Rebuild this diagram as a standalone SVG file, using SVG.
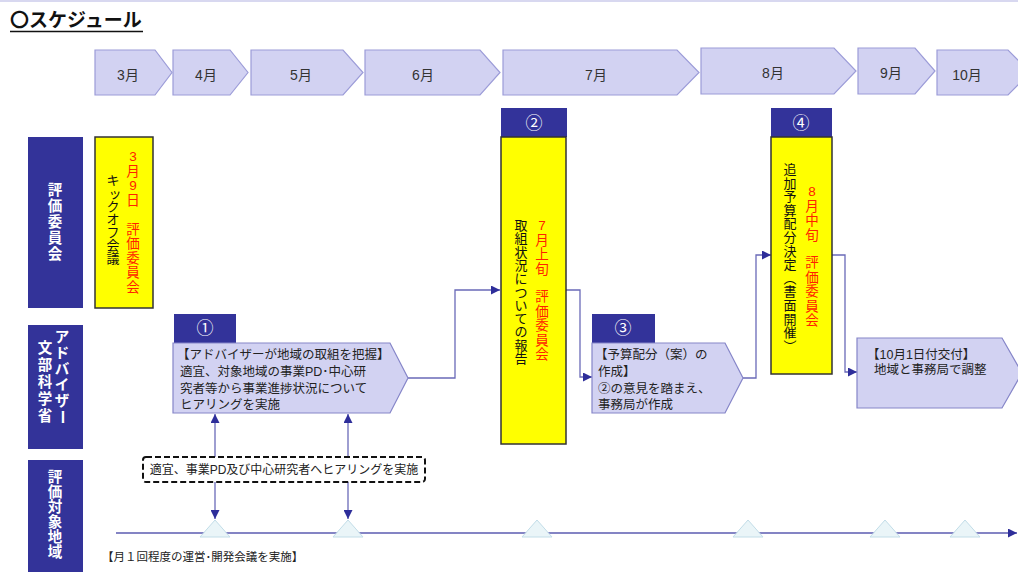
<svg xmlns="http://www.w3.org/2000/svg" width="1018" height="572" viewBox="0 0 1018 572">
<defs>
<marker id="arr" viewBox="0 0 10 10" refX="10" refY="5" markerWidth="9" markerHeight="9" markerUnits="userSpaceOnUse" orient="auto-start-reverse">
<path d="M0,0 L10,5 L0,10 Z" fill="#2e2e9a"/>
</marker>
<style>
text{font-family:"Liberation Sans","Noto Sans CJK JP",sans-serif;}
.month{fill:#d2d2f2;stroke:#9c9cd8;stroke-width:1.2;}
.mlabel{font-size:14px;fill:#333;text-anchor:middle;}
.row{fill:#333399;}
.rowt{font-size:14.5px;fill:#fff;text-anchor:middle;dominant-baseline:central;font-weight:bold;}
.yel{fill:#ffff00;stroke:#333;stroke-width:1.5;}
.hdr{fill:#33339a;}
.num{font-size:17px;fill:#fff;text-anchor:middle;}
.vr{font-size:13.5px;fill:#ff2200;text-anchor:middle;dominant-baseline:central;}
.vb{font-size:13px;fill:#111;text-anchor:middle;dominant-baseline:central;}
.pent{fill:#d2d2f2;stroke:#8585c8;stroke-width:1.2;}
.pt{font-size:12.5px;fill:#222;}
.con{fill:none;stroke:#6a6ab8;stroke-width:1.3;}
.tri{fill:#eaf5f8;stroke:#c2dde8;stroke-width:1;}
</style>
</defs>
<rect width="1018" height="572" fill="#fff"/>
<line x1="0" y1="1" x2="1018" y2="1" stroke="#d8d8f0" stroke-width="2"/>
<g id="title">
<text x="10" y="27" font-size="19" font-weight="bold" fill="#111">〇スケジュール</text>
<line x1="10" y1="31.5" x2="143" y2="31.5" stroke="#111" stroke-width="1.5"/>
</g>
<g id="months">
<polygon class="month" points="95,50 155,50 172,72.5 155,95 95,95"/>
<text class="mlabel" x="128" y="80">3月</text>
<polygon class="month" points="173,50 230,50 248,72.5 230,95 173,95"/>
<text class="mlabel" x="206" y="80">4月</text>
<polygon class="month" points="251,50 343,50 363,72.5 343,95 251,95"/>
<text class="mlabel" x="301" y="80">5月</text>
<polygon class="month" points="365,50 480,50 500,72.5 480,95 365,95"/>
<text class="mlabel" x="423" y="80">6月</text>
<polygon class="month" points="503,50 677,50 699,72.5 677,95 503,95"/>
<text class="mlabel" x="596" y="80">7月</text>
<polygon class="month" points="701,48 834,48 856,71 834,94 701,94"/>
<text class="mlabel" x="773" y="78">8月</text>
<polygon class="month" points="858,48 915,48 935,71 915,94 858,94"/>
<text class="mlabel" x="891" y="78">9月</text>
<polygon class="month" points="937,50 1008,50 1030,72.5 1008,95 937,95"/>
<text class="mlabel" x="967" y="80">10月</text>
</g>
<g id="row-committee">
<rect class="row" x="28" y="137" width="55" height="171"/>
<text class="rowt"><tspan x="55" y="190">評</tspan><tspan x="55" y="206">価</tspan><tspan x="55" y="222">委</tspan><tspan x="55" y="238">員</tspan><tspan x="55" y="254">会</tspan></text>
</g>
<g id="row-mext">
<rect class="row" x="28" y="325" width="55" height="124"/>
<text class="rowt"><tspan x="62" y="337">ア</tspan><tspan x="62" y="353">ド</tspan><tspan x="62" y="369">バ</tspan><tspan x="62" y="385">イ</tspan><tspan x="62" y="401">ザ</tspan></text>
<text class="rowt" transform="rotate(90 62 417)" x="62" y="417">ー</text>
<text class="rowt"><tspan x="45" y="348">文</tspan><tspan x="45" y="365">部</tspan><tspan x="45" y="382">科</tspan><tspan x="45" y="399">学</tspan><tspan x="45" y="416">省</tspan></text>
</g>
<g id="row-region">
<rect class="row" x="28" y="460" width="55" height="115"/>
<text class="rowt"><tspan x="55" y="477">評</tspan><tspan x="55" y="492">価</tspan><tspan x="55" y="507">対</tspan><tspan x="55" y="522">象</tspan><tspan x="55" y="537">地</tspan><tspan x="55" y="552">域</tspan></text>
</g>
<g id="kickoff">
<rect class="yel" x="95" y="137" width="58" height="171"/>
<text class="vr"><tspan x="133" y="156">3</tspan><tspan x="133" y="170.5">月</tspan><tspan x="133" y="185">9</tspan><tspan x="133" y="199.5">日</tspan><tspan x="133" y="228.5">評</tspan><tspan x="133" y="243">価</tspan><tspan x="133" y="257.5">委</tspan><tspan x="133" y="272">員</tspan><tspan x="133" y="286.5">会</tspan></text>
<text class="vb" font-size="12.5"><tspan x="113" y="180">キ</tspan><tspan x="115" y="193">ッ</tspan><tspan x="113" y="206">ク</tspan><tspan x="113" y="219">オ</tspan><tspan x="113" y="232">フ</tspan><tspan x="113" y="245">会</tspan><tspan x="113" y="258">議</tspan></text>
</g>
<g id="connectors">
<polyline class="con" points="408,378 455,378 455,290 500,290" marker-end="url(#arr)"/>
<polyline class="con" points="566,290 580,290 580,377 592,377" marker-end="url(#arr)"/>
<polyline class="con" points="743,378 756,378 756,255 771,255" marker-end="url(#arr)"/>
<polyline class="con" points="832,255 845,255 845,372 857,372" marker-end="url(#arr)"/>
<line class="con" x1="215" y1="519" x2="215" y2="414" marker-start="url(#arr)" marker-end="url(#arr)"/>
<line class="con" x1="348" y1="519" x2="348" y2="414" marker-start="url(#arr)" marker-end="url(#arr)"/>
<line x1="116" y1="533" x2="1017" y2="533" stroke="#8484c4" stroke-width="2" marker-end="url(#arr)"/>
</g>
<g id="step1">
<rect class="hdr" x="174" y="314" width="62" height="29"/>
<text class="num" x="205" y="334">①</text>
<polygon class="pent" points="173,343 390,343 408,378 390,413 173,413"/>
<text class="pt" x="177" y="359">【アドバイザーが地域の取組を把握】</text>
<text class="pt" x="180" y="376">適宜、対象地域の事業PD･中心研</text>
<text class="pt" x="180" y="393">究者等から事業進捗状況について</text>
<text class="pt" x="180" y="409">ヒアリングを実施</text>
</g>
<g id="step2">
<rect class="hdr" x="501" y="108" width="66" height="29"/>
<text class="num" x="534" y="129">②</text>
<rect class="yel" x="501" y="137" width="65" height="307"/>
<text class="vr"><tspan x="542" y="225">7</tspan><tspan x="542" y="239.5">月</tspan><tspan x="542" y="254">上</tspan><tspan x="542" y="268.5">旬</tspan><tspan x="542" y="296">評</tspan><tspan x="542" y="310.5">価</tspan><tspan x="542" y="325">委</tspan><tspan x="542" y="339.5">員</tspan><tspan x="542" y="354">会</tspan></text>
<text class="vb"><tspan x="521" y="225">取</tspan><tspan x="521" y="238.3">組</tspan><tspan x="521" y="251.6">状</tspan><tspan x="521" y="264.9">況</tspan><tspan x="521" y="278.2">に</tspan><tspan x="521" y="291.5">つ</tspan><tspan x="521" y="304.8">い</tspan><tspan x="521" y="318.1">て</tspan><tspan x="521" y="331.4">の</tspan><tspan x="521" y="344.7">報</tspan><tspan x="521" y="358">告</tspan></text>
</g>
<g id="step3">
<rect class="hdr" x="592" y="314" width="63" height="29"/>
<text class="num" x="623" y="334">③</text>
<polygon class="pent" points="592,343 725,343 743,378 725,413 592,413"/>
<text class="pt" x="595" y="359">【予算配分（案）の</text>
<text class="pt" x="598" y="376">作成】</text>
<text class="pt" x="598" y="393">②の意見を踏まえ、</text>
<text class="pt" x="598" y="409">事務局が作成</text>
</g>
<g id="step4">
<rect class="hdr" x="771" y="108" width="61" height="29"/>
<text class="num" x="801" y="129">④</text>
<rect class="yel" x="771" y="137" width="61" height="237"/>
<text class="vb"><tspan x="790" y="169">追</tspan><tspan x="790" y="182.6">加</tspan><tspan x="790" y="196.2">予</tspan><tspan x="790" y="209.8">算</tspan><tspan x="790" y="223.4">配</tspan><tspan x="790" y="237">分</tspan><tspan x="790" y="250.6">決</tspan><tspan x="790" y="264.2">定</tspan><tspan x="790" y="277.8">︵</tspan><tspan x="790" y="291.4">書</tspan><tspan x="790" y="305">面</tspan><tspan x="790" y="318.6">開</tspan><tspan x="790" y="332.2">催</tspan><tspan x="790" y="345.8">︶</tspan></text>
<text class="vr"><tspan x="812" y="191">8</tspan><tspan x="812" y="205.5">月</tspan><tspan x="812" y="220">中</tspan><tspan x="812" y="234.5">旬</tspan><tspan x="812" y="262">評</tspan><tspan x="812" y="276.5">価</tspan><tspan x="812" y="291">委</tspan><tspan x="812" y="305.5">員</tspan><tspan x="812" y="320">会</tspan></text>
</g>
<g id="step5">
<polygon class="pent" points="857,338 1002,338 1022,373 1002,408 857,408"/>
<text class="pt" x="867" y="359">【10月1日付交付】</text>
<text class="pt" x="874" y="374">地域と事務局で調整</text>
</g>
<g id="hearing">
<rect x="143" y="457" width="282" height="25" rx="3" fill="#fff" stroke="#111" stroke-width="2" stroke-dasharray="6,3"/>
<text x="284" y="474" font-size="12" fill="#222" text-anchor="middle">適宜、事業PD及び中心研究者へヒアリングを実施</text>
</g>
<g id="milestones">
<polygon class="tri" points="200,537 215,520 230,537"/>
<polygon class="tri" points="333,537 348,520 363,537"/>
<polygon class="tri" points="522,537 537,520 552,537"/>
<polygon class="tri" points="733,537 748,520 763,537"/>
<polygon class="tri" points="870,537 885,520 900,537"/>
<polygon class="tri" points="950,537 965,520 980,537"/>
</g>
<g id="meeting">
<text x="102" y="561" font-size="11.5" fill="#222">【月１回程度の運営･開発会議を実施】</text>
</g>
</svg>
